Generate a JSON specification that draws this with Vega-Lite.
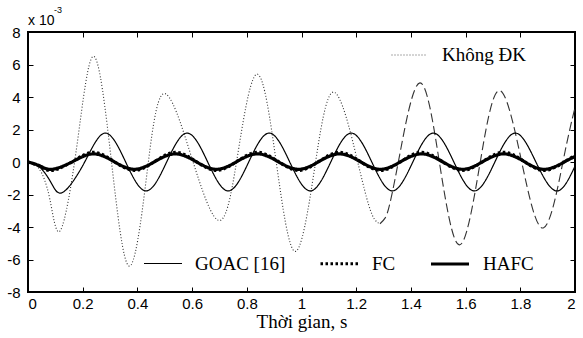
{
  "$schema": "https://vega.github.io/schema/vega-lite/v6.json",
  "width": 547,
  "height": 260,
  "autosize": {"type": "none"},
  "padding": {"left": 28, "top": 32, "right": 8, "bottom": 46},
  "background": "white",
  "datasets": {
    "curves": [
      {"s": "Không ĐK", "t": 0, "v": 0},
      {"s": "Không ĐK", "t": 0.04, "v": -0.4},
      {"s": "Không ĐK", "t": 0.08, "v": -2.3},
      {"s": "Không ĐK", "t": 0.119, "v": -4.2},
      {"s": "Không ĐK", "t": 0.18, "v": 1.15},
      {"s": "Không ĐK", "t": 0.241, "v": 6.5},
      {"s": "Không ĐK", "t": 0.305, "v": 0.05},
      {"s": "Không ĐK", "t": 0.369, "v": -6.4},
      {"s": "Không ĐK", "t": 0.432, "v": -1.1},
      {"s": "Không ĐK", "t": 0.495, "v": 4.2},
      {"s": "Không ĐK", "t": 0.598, "v": 0.3},
      {"s": "Không ĐK", "t": 0.702, "v": -3.6},
      {"s": "Không ĐK", "t": 0.771, "v": 0.9},
      {"s": "Không ĐK", "t": 0.84, "v": 5.4},
      {"s": "Không ĐK", "t": 0.908, "v": -0.05},
      {"s": "Không ĐK", "t": 0.976, "v": -5.5},
      {"s": "Không ĐK", "t": 1.046, "v": -0.6},
      {"s": "Không ĐK", "t": 1.117, "v": 4.3},
      {"s": "Không ĐK", "t": 1.202, "v": 0.25},
      {"s": "Không ĐK", "t": 1.245, "v": -2.61},
      {"s": "Không ĐK", "t": 1.268, "v": -3.55},
      {"s": "Không ĐK", "t": 1.287, "v": -3.8},
      {"s": "Không ĐK (tiếp)", "t": 1.287, "v": -3.8},
      {"s": "Không ĐK (tiếp)", "t": 1.306, "v": -3.44},
      {"s": "Không ĐK (tiếp)", "t": 1.3235, "v": -2.53},
      {"s": "Không ĐK (tiếp)", "t": 1.36, "v": 0.53},
      {"s": "Không ĐK (tiếp)", "t": 1.433, "v": 4.87},
      {"s": "Không ĐK (tiếp)", "t": 1.505, "v": -0.1},
      {"s": "Không ĐK (tiếp)", "t": 1.577, "v": -5.1},
      {"s": "Không ĐK (tiếp)", "t": 1.65, "v": -0.35},
      {"s": "Không ĐK (tiếp)", "t": 1.722, "v": 4.4},
      {"s": "Không ĐK (tiếp)", "t": 1.803, "v": 0.17},
      {"s": "Không ĐK (tiếp)", "t": 1.884, "v": -4.06},
      {"s": "Không ĐK (tiếp)", "t": 1.957, "v": 0.1},
      {"s": "Không ĐK (tiếp)", "t": 2.0, "v": 3.36},
      {"s": "GOAC [16]", "t": 0, "v": 0},
      {"s": "GOAC [16]", "t": 0.045, "v": -0.35},
      {"s": "GOAC [16]", "t": 0.087, "v": -1.35},
      {"s": "GOAC [16]", "t": 0.129, "v": -1.85},
      {"s": "GOAC [16]", "t": 0.206, "v": -0.04},
      {"s": "GOAC [16]", "t": 0.282, "v": 1.78},
      {"s": "GOAC [16]", "t": 0.357, "v": 0},
      {"s": "GOAC [16]", "t": 0.432, "v": -1.78},
      {"s": "GOAC [16]", "t": 0.507, "v": 0},
      {"s": "GOAC [16]", "t": 0.582, "v": 1.78},
      {"s": "GOAC [16]", "t": 0.657, "v": 0},
      {"s": "GOAC [16]", "t": 0.732, "v": -1.78},
      {"s": "GOAC [16]", "t": 0.807, "v": 0},
      {"s": "GOAC [16]", "t": 0.882, "v": 1.78},
      {"s": "GOAC [16]", "t": 0.957, "v": 0},
      {"s": "GOAC [16]", "t": 1.032, "v": -1.78},
      {"s": "GOAC [16]", "t": 1.107, "v": 0},
      {"s": "GOAC [16]", "t": 1.182, "v": 1.78},
      {"s": "GOAC [16]", "t": 1.257, "v": 0},
      {"s": "GOAC [16]", "t": 1.332, "v": -1.78},
      {"s": "GOAC [16]", "t": 1.407, "v": 0},
      {"s": "GOAC [16]", "t": 1.482, "v": 1.78},
      {"s": "GOAC [16]", "t": 1.557, "v": 0},
      {"s": "GOAC [16]", "t": 1.632, "v": -1.78},
      {"s": "GOAC [16]", "t": 1.707, "v": 0},
      {"s": "GOAC [16]", "t": 1.782, "v": 1.78},
      {"s": "GOAC [16]", "t": 1.857, "v": 0},
      {"s": "GOAC [16]", "t": 1.932, "v": -1.78},
      {"s": "GOAC [16]", "t": 2.0, "v": -0.26},
      {"s": "FC", "t": 0, "v": 0},
      {"s": "FC", "t": 0.045, "v": -0.28},
      {"s": "FC", "t": 0.089, "v": -0.52},
      {"s": "FC", "t": 0.164, "v": 0.04},
      {"s": "FC", "t": 0.239, "v": 0.6},
      {"s": "FC", "t": 0.314, "v": 0.04},
      {"s": "FC", "t": 0.389, "v": -0.52},
      {"s": "FC", "t": 0.464, "v": 0.04},
      {"s": "FC", "t": 0.539, "v": 0.6},
      {"s": "FC", "t": 0.614, "v": 0.04},
      {"s": "FC", "t": 0.689, "v": -0.52},
      {"s": "FC", "t": 0.764, "v": 0.04},
      {"s": "FC", "t": 0.839, "v": 0.6},
      {"s": "FC", "t": 0.914, "v": 0.04},
      {"s": "FC", "t": 0.989, "v": -0.52},
      {"s": "FC", "t": 1.064, "v": 0.04},
      {"s": "FC", "t": 1.139, "v": 0.6},
      {"s": "FC", "t": 1.214, "v": 0.04},
      {"s": "FC", "t": 1.289, "v": -0.52},
      {"s": "FC", "t": 1.364, "v": 0.04},
      {"s": "FC", "t": 1.439, "v": 0.6},
      {"s": "FC", "t": 1.514, "v": 0.04},
      {"s": "FC", "t": 1.589, "v": -0.52},
      {"s": "FC", "t": 1.664, "v": 0.04},
      {"s": "FC", "t": 1.739, "v": 0.6},
      {"s": "FC", "t": 1.814, "v": 0.04},
      {"s": "FC", "t": 1.889, "v": -0.52},
      {"s": "FC", "t": 1.964, "v": 0.04},
      {"s": "FC", "t": 2.0, "v": 0.4},
      {"s": "HAFC", "t": 0, "v": 0},
      {"s": "HAFC", "t": 0.045, "v": -0.25},
      {"s": "HAFC", "t": 0.089, "v": -0.45},
      {"s": "HAFC", "t": 0.164, "v": 0.03},
      {"s": "HAFC", "t": 0.239, "v": 0.5},
      {"s": "HAFC", "t": 0.314, "v": 0.03},
      {"s": "HAFC", "t": 0.389, "v": -0.45},
      {"s": "HAFC", "t": 0.464, "v": 0.03},
      {"s": "HAFC", "t": 0.539, "v": 0.5},
      {"s": "HAFC", "t": 0.614, "v": 0.03},
      {"s": "HAFC", "t": 0.689, "v": -0.45},
      {"s": "HAFC", "t": 0.764, "v": 0.03},
      {"s": "HAFC", "t": 0.839, "v": 0.5},
      {"s": "HAFC", "t": 0.914, "v": 0.03},
      {"s": "HAFC", "t": 0.989, "v": -0.45},
      {"s": "HAFC", "t": 1.064, "v": 0.03},
      {"s": "HAFC", "t": 1.139, "v": 0.5},
      {"s": "HAFC", "t": 1.214, "v": 0.03},
      {"s": "HAFC", "t": 1.289, "v": -0.45},
      {"s": "HAFC", "t": 1.364, "v": 0.03},
      {"s": "HAFC", "t": 1.439, "v": 0.5},
      {"s": "HAFC", "t": 1.514, "v": 0.03},
      {"s": "HAFC", "t": 1.589, "v": -0.45},
      {"s": "HAFC", "t": 1.664, "v": 0.03},
      {"s": "HAFC", "t": 1.739, "v": 0.5},
      {"s": "HAFC", "t": 1.814, "v": 0.03},
      {"s": "HAFC", "t": 1.889, "v": -0.45},
      {"s": "HAFC", "t": 1.964, "v": 0.03},
      {"s": "HAFC", "t": 2.0, "v": 0.34}
    ]
  },
  "data": {"name": "curves"},
  "layer": [
    {
      "transform": [{"filter": "datum.s === 'HAFC'"}],
      "mark": {"type": "line", "strokeOpacity": 0},
      "encoding": {
        "x": {"field": "t", "type": "quantitative", "scale": {"domain": [0, 2], "nice": false, "zero": false},
              "axis": {"orient": "top", "labels": false, "title": null, "values": [0, 0.2, 0.4, 0.6, 0.8, 1, 1.2, 1.4, 1.6, 1.8, 2]}},
        "y": {"field": "v", "type": "quantitative", "scale": {"domain": [-8, 8], "nice": false},
              "axis": {"orient": "right", "labels": false, "title": null, "values": [-8, -6, -4, -2, 0, 2, 4, 6, 8]}}
      }
    },
    {
      "transform": [{"filter": "datum.s === 'Không ĐK' || datum.s === 'Không ĐK (tiếp)'"}],
      "mark": {"type": "line", "interpolate": "natural", "color": "#333333", "strokeWidth": 1.1},
      "encoding": {
        "x": {"field": "t", "type": "quantitative", "scale": {"domain": [0, 2], "nice": false, "zero": false},
              "axis": {"orient": "bottom", "title": "Thời gian, s", "format": "~g", "labelPadding": 9,
                       "values": [0, 0.2, 0.4, 0.6, 0.8, 1, 1.2, 1.4, 1.6, 1.8, 2],
                       "titleFont": "Liberation Serif", "titleFontSize": 19, "titleFontWeight": "normal", "titlePadding": 1}},
        "y": {"field": "v", "type": "quantitative", "scale": {"domain": [-8, 8], "nice": false},
              "axis": {"orient": "left", "title": null, "labelPadding": 13, "labelExpr": "'' + datum.value",
                       "values": [-8, -6, -4, -2, 0, 2, 4, 6, 8]}},
        "strokeDash": {"field": "s", "type": "nominal",
          "scale": {"domain": ["Không ĐK", "Không ĐK (tiếp)"], "range": [[1, 2], [9, 4]]},
          "legend": {"values": ["Không ĐK"], "orient": "none", "legendX": 363, "legendY": 5, "title": null,
                     "symbolType": "stroke", "symbolSize": 1225, "symbolStrokeWidth": 1, "symbolStrokeColor": "#555555",
                     "labelOffset": 15, "labelFont": "Liberation Serif", "labelFontSize": 19, "labelColor": "black",
                     "labelLimit": 300, "padding": 0}}
      }
    },
    {
      "transform": [{"filter": "datum.s === 'GOAC [16]' || datum.s === 'FC' || datum.s === 'HAFC'"}],
      "mark": {"type": "line", "interpolate": "natural", "color": "black"},
      "encoding": {
        "x": {"field": "t", "type": "quantitative", "scale": {"domain": [0, 2], "nice": false, "zero": false}, "axis": null},
        "y": {"field": "v", "type": "quantitative", "scale": {"domain": [-8, 8], "nice": false}, "axis": null},
        "strokeDash": {"field": "s", "type": "nominal",
          "scale": {"domain": ["GOAC [16]", "FC", "HAFC"], "range": [[1, 0], [2.5, 2.5], [1, 0]]},
          "legend": {"orient": "none", "direction": "horizontal", "legendX": 115, "legendY": 211, "title": null,
                     "symbolType": "stroke", "symbolSize": 1444, "symbolStrokeColor": "black",
                     "labelOffset": 12, "columnPadding": 28, "labelFont": "Liberation Serif", "labelFontSize": 19,
                     "labelColor": "black", "labelLimit": 300, "padding": 0}},
        "strokeWidth": {"field": "s", "type": "nominal",
          "scale": {"type": "ordinal", "domain": ["GOAC [16]", "FC", "HAFC"], "range": [1.2, 3, 3.2]},
          "legend": {"orient": "none", "direction": "horizontal", "legendX": 115, "legendY": 211, "title": null,
                     "symbolType": "stroke", "symbolSize": 1444, "symbolStrokeColor": "black",
                     "labelOffset": 12, "columnPadding": 28, "labelFont": "Liberation Serif", "labelFontSize": 19,
                     "labelColor": "black", "labelLimit": 300, "padding": 0}}
      }
    },
    {
      "data": {"values": [{}]},
      "mark": {"type": "text", "text": "x 10", "align": "left", "baseline": "alphabetic", "dx": 0, "dy": -7,
               "font": "Liberation Sans", "fontSize": 14, "color": "black"},
      "encoding": {
        "x": {"datum": 0, "type": "quantitative", "scale": {"domain": [0, 2], "nice": false, "zero": false}, "axis": null},
        "y": {"datum": 8, "type": "quantitative", "scale": {"domain": [-8, 8], "nice": false}, "axis": null}
      }
    },
    {
      "data": {"values": [{}]},
      "mark": {"type": "text", "text": "-3", "align": "left", "baseline": "alphabetic", "dx": 26, "dy": -19,
               "font": "Liberation Sans", "fontSize": 9, "color": "black"},
      "encoding": {
        "x": {"datum": 0, "type": "quantitative", "scale": {"domain": [0, 2], "nice": false, "zero": false}, "axis": null},
        "y": {"datum": 8, "type": "quantitative", "scale": {"domain": [-8, 8], "nice": false}, "axis": null}
      }
    }
  ],
  "resolve": {
    "scale": {"strokeDash": "independent", "strokeWidth": "independent"},
    "axis": {"x": "independent", "y": "independent"},
    "legend": {"strokeDash": "independent", "strokeWidth": "independent"}
  },
  "config": {
    "view": {"stroke": "black", "strokeWidth": 2},
    "axis": {"domain": false, "grid": false, "ticks": true, "tickSize": -5, "tickColor": "black", "tickWidth": 1,
             "labelFont": "Liberation Sans", "labelFontSize": 15, "labelColor": "black", "titleColor": "black"},
    "legend": {"labelFont": "Liberation Serif", "labelFontSize": 19, "labelColor": "black"}
  }
}
